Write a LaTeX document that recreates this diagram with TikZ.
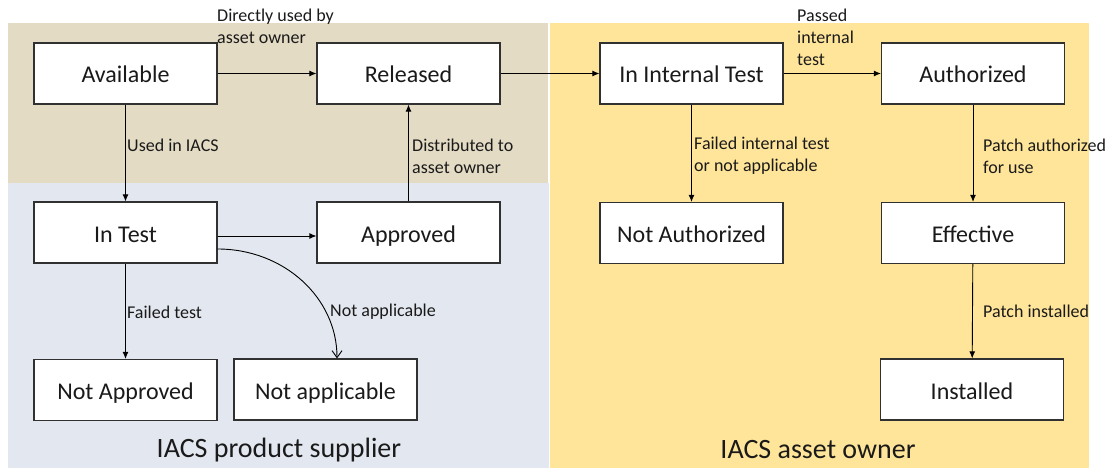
\documentclass[tikz,border=0pt]{standalone}
\usepackage{fontspec}
\setmainfont{Carlito}
\usetikzlibrary{arrows.meta}
\definecolor{supplierTop}{HTML}{E3DBC4}
\definecolor{supplierBottom}{HTML}{E3E7F0}
\definecolor{ownerBg}{HTML}{FFE599}
\definecolor{ink}{HTML}{1A1A1A}
\tikzset{
  state/.style={draw=ink!90, line width=1.2pt, fill=white, minimum width=183pt,
    minimum height=61pt, inner sep=0pt, text height=20pt, text depth=1pt,
    font=\fontsize{24}{29}\selectfont, text=ink},
  edgelabel/.style={anchor=west, align=left, inner sep=0pt,
    font=\fontsize{18}{22}\selectfont, text=ink},
  region/.style={inner sep=0pt, font=\fontsize{28}{34}\selectfont, text=ink},
  flow/.style={line width=0.9pt, draw=black, -{Latex[length=7pt,width=6pt]}},
  openflow/.style={line width=0.9pt, draw=black, -{Straight Barb[length=7pt,width=10pt]}}
}
\begin{document}
\begin{tikzpicture}[x=1pt,y=-1pt]
\useasboundingbox (0,0) rectangle (1115,468);
% swimlane backgrounds
\fill[supplierTop] (8,23) rectangle (548,183);
\fill[supplierBottom] (8,183) rectangle (549,468);
\fill[ownerBg] (550,23) rectangle (1089,468);

% states
\node[state] (available)   at (125.5,73.5) {Available};
\node[state] (released)    at (408.5,73.5) {Released};
\node[state] (internal)    at (691.5,73.5) {In Internal Test};
\node[state] (authorized)  at (973,73.5)   {Authorized};
\node[state] (intest)      at (125.5,232.5) {In Test};
\node[state] (approved)    at (408.5,232.5) {Approved};
\node[state] (notauth)     at (691.5,233)  {Not Authorized};
\node[state] (effective)   at (973,233)    {Effective};
\node[state] (notapproved) at (125.5,390)  {Not Approved};
\node[state] (notapp)      at (325.5,389.5) {Not applicable};
\node[state] (installed)   at (972,389.5)  {Installed};

% transitions
\draw[flow] (available) -- (released);
\draw[flow] (released) -- (internal);
\draw[flow] (internal) -- (authorized);
\draw[flow] (available) -- (intest);
\draw[flow] (approved) -- (released);
\draw[flow] ([yshift=-3.5pt]intest.east) -- ([yshift=-3.5pt]approved.west);
\draw[flow] (intest) -- (notapproved);
\draw[openflow] ([yshift=-16.5pt]intest.east)
  .. controls +(66,0) and +(0,-61) .. ([xshift=11.5pt]notapp.north);
\draw[flow] (internal) -- (notauth);
\draw[flow] (authorized) -- (effective);
\draw[flow] (effective) -- (installed);

% transition labels
\node[edgelabel] (lDirect)   at (217,26)  {Directly used by\\asset owner};
\node[edgelabel] (lUsed)     at (127,145) {Used in IACS};
\node[edgelabel] (lDist)     at (412,156) {Distributed to\\asset owner};
\node[edgelabel] (lFailed)   at (127,312) {Failed test};
\node[edgelabel] (lNotApp)   at (330,312) {Not applicable};
\node[edgelabel] (lPassed)   at (797,37.5) {Passed\\internal\\test};
\node[edgelabel] (lFailInt)  at (694,156) {Failed internal test\\or not applicable};
\node[edgelabel] (lPatchAuth) at (983,156) {Patch authorized\\for use};
\node[edgelabel] (lPatchInst) at (983,311) {Patch installed};

% lane titles
\node[region] (supplier) at (279,450) {IACS product supplier};
\node[region] (owner)    at (818,450) {IACS asset owner};
\end{tikzpicture}
\end{document}
